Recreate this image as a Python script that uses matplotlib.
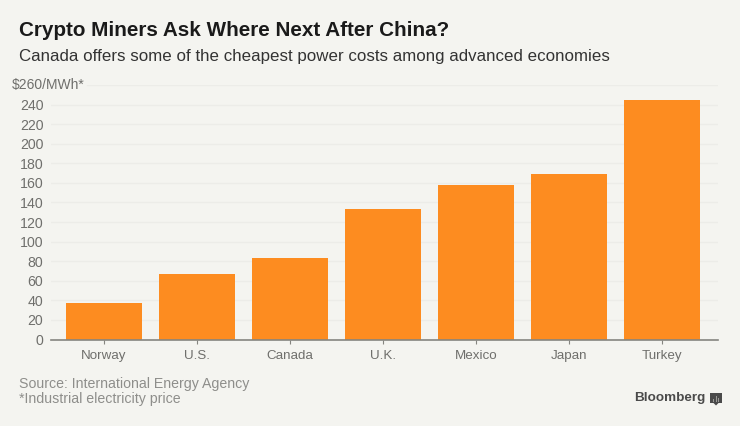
import matplotlib
matplotlib.use("Agg")
import matplotlib.pyplot as plt
from matplotlib.patches import Rectangle, Polygon

countries = ["Norway", "U.S.", "Canada", "U.K.", "Mexico", "Japan", "Turkey"]
prices = [37, 67, 83.5, 133, 157.5, 169.5, 245]
ticks = list(range(0, 261, 20))
tick_labels = [str(t) for t in ticks[:-1]] + ["$260/MWh*"]

W, H = 740, 426
BG = "#f4f4f0"
plt.rcParams["font.family"] = ["Liberation Sans", "DejaVu Sans"]
fig = plt.figure(figsize=(W / 100, H / 100), dpi=100, facecolor=BG)

left, right, top, bottom = 51, 718, 85, 339.5
ax = fig.add_axes([left / W, 1 - bottom / H, (right - left) / W, (bottom - top) / H])
ax.set_facecolor(BG)
x = list(range(len(countries)))
ax.bar(x, prices, width=76 / 93, color="#fd8c20", zorder=3)
ax.set_xlim(-53 / 93, (right - 104) / 93)
ax.set_ylim(0, 260)
for t in ticks[1:-1]:
    ax.axhline(t, color="#ecece8", lw=1, zorder=1)
ax.plot([(87 - 104) / 93, (right - 104) / 93], [260, 260], color="#ecece8", lw=1, zorder=1)
for s in ["top", "right", "left"]:
    ax.spines[s].set_visible(False)
ax.spines["bottom"].set_color("#858580")
ax.spines["bottom"].set_linewidth(1.2)
ax.spines["bottom"].set_zorder(4)
ax.set_xticks(x, countries, fontsize=9.6, color="#6f6f6c")
ax.tick_params(axis="x", length=3, color="#858580", pad=4.5)
ax.set_yticks(ticks[:-1], tick_labels[:-1], fontsize=10.2, color="#6f6f6c")
ax.tick_params(axis="y", length=0, pad=5.5)
ax.text(85 / W, 1 - 85 / H, tick_labels[-1], transform=fig.transFigure, ha="right", va="center",
        fontsize=10, color="#6f6f6c")

fig.text(19 / W, 1 - 31 / H, "Crypto Miners Ask Where Next After China?", fontsize=14.9, fontweight="bold",
         color="#1a1a1a", va="center", ha="left")
fig.text(19 / W, 1 - 57 / H, "Canada offers some of the cheapest power costs among advanced economies",
         fontsize=12.2, color="#333333", va="center", ha="left")
fig.text(19 / W, 1 - 384 / H, "Source: International Energy Agency", fontsize=10.2, color="#8e8e8b", va="center")
fig.text(19 / W, 1 - 399 / H, "*Industrial electricity price", fontsize=10.2, color="#8e8e8b", va="center")
fig.text(705 / W, 1 - 398.5 / H, "Bloomberg", fontsize=9.7, fontweight="bold", color="#4a4a4a", va="center", ha="right")

# Bloomberg mark
fig.add_artist(Rectangle((710 / W, 1 - 403 / H), 12 / W, 10 / H, transform=fig.transFigure, color="#4a4a4a", lw=0))
fig.add_artist(Polygon([(713.5 / W, 1 - 403 / H), (718.5 / W, 1 - 403 / H), (716 / W, 1 - 405.5 / H)],
                       transform=fig.transFigure, color="#4a4a4a", lw=0))
for px, h in [(713, 3), (715.5, 6), (718, 4)]:
    fig.add_artist(Rectangle((px / W, 1 - 402 / H), 1 / W, h / H, transform=fig.transFigure, color="#9a9a96", lw=0))

fig.savefig("out.png", dpi=100, facecolor=BG)
